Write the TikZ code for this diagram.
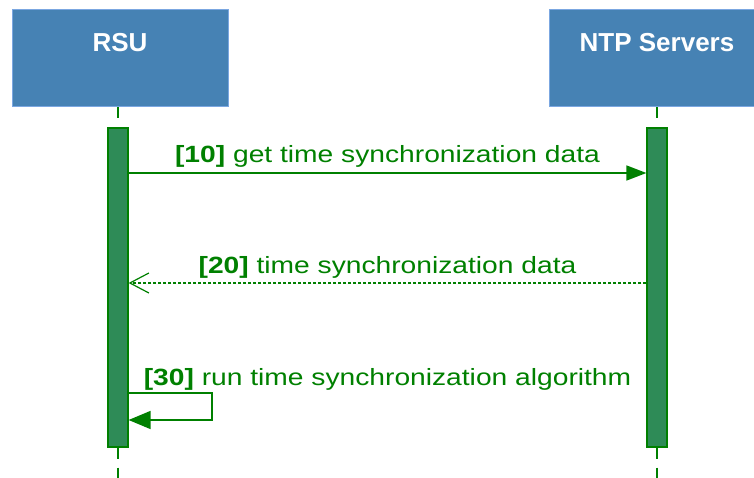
\documentclass[tikz,border=0pt]{standalone}
\usepackage{fontspec}
\setmainfont{Liberation Sans}
\newfontfamily\msgfont[FakeStretch=1.2]{Liberation Sans}
\usetikzlibrary{arrows.meta,positioning,calc}
\definecolor{headblue}{HTML}{4682B4}
\definecolor{headedge}{HTML}{7BA7E1}
\definecolor{barfill}{HTML}{2E8B57}
\definecolor{msggreen}{HTML}{008000}

\begin{document}
\begin{tikzpicture}[x=1pt, y=-1pt,
    headbox/.style={draw=headedge, line width=1pt, fill=headblue, minimum width=216pt, minimum height=97pt, inner sep=0pt},
    headtxt/.style={text=white, font=\fontsize{26}{30}\selectfont\bfseries, inner sep=0pt},
    actbar/.style={draw=msggreen, line width=1.2pt, fill=barfill, minimum width=20pt, minimum height=319pt, inner sep=0pt},
    lifeline/.style={msggreen, line width=1.5pt, dash pattern=on 11pt off 9pt},
    msg/.style={msggreen, line width=1.5pt},
    msglbl/.style={text=msggreen, font=\fontsize{23.5}{28}\msgfont, inner sep=0pt}]
    \useasboundingbox (0,0) rectangle (754,478);
    \clip (0,0) rectangle (754,478);

    % Participants
    \node[headbox] (rsu) at (120,58.5) {};
    \node[headbox] (ntp) at (657,58.5) {};
    \node[headtxt, anchor=base] (rsutxt) at ([yshift=-42pt]rsu.north) {RSU};
    \node[headtxt, anchor=base] (ntptxt) at ([yshift=-42pt]ntp.north) {NTP Servers};

    % Lifelines and activation bars
    \coordinate (bottom) at (0,478);
    \coordinate (rsuline) at (118,0);
    \draw[lifeline] (rsuline |- rsu.south) -- (rsuline |- bottom);
    \draw[lifeline] (ntp.south) -- (ntp.south |- bottom);
    \node[actbar] (rsubar) at (118,287.5) {};
    \node[actbar] (ntpbar) at (657,287.5) {};

    % Message rows
    \coordinate (m10) at (0,173);
    \coordinate (m20) at (0,283);
    \coordinate (m30) at (0,393);
    \coordinate (m30b) at (0,420);
    \coordinate (loop) at (212,0);

    % [10] request
    \draw[msg, -{Triangle[length=20pt,width=15pt]}] (rsubar.east |- m10) -- (ntpbar.west |- m10);
    \node[msglbl, anchor=base] (l10) at ($(rsubar.east |- m10)!0.5!(ntpbar.west |- m10) + (0,-10)$) {\textbf{[10]} get time synchronization data};

    % [20] reply
    \draw[msg, line width=1.2pt, dash pattern=on 3pt off 2pt, -{Straight Barb[length=19pt,width=20pt,line width=1.2pt]}] (ntpbar.west |- m20) -- (rsubar.east |- m20);
    \node[msglbl, anchor=base] (l20) at ($(rsubar.east |- m20)!0.5!(ntpbar.west |- m20) + (0,-10)$) {\textbf{[20]} time synchronization data};

    % [30] self call
    \draw[msg, -{Triangle[length=22pt,width=18pt]}] (rsubar.east |- m30) -- (loop |- m30) -- (loop |- m30b) -- (rsubar.east |- m30b);
    \node[msglbl, anchor=base west] (l30) at ([xshift=15pt, yshift=8pt]rsubar.east |- m30) {\textbf{[30]} run time synchronization algorithm};
\end{tikzpicture}
\end{document}
